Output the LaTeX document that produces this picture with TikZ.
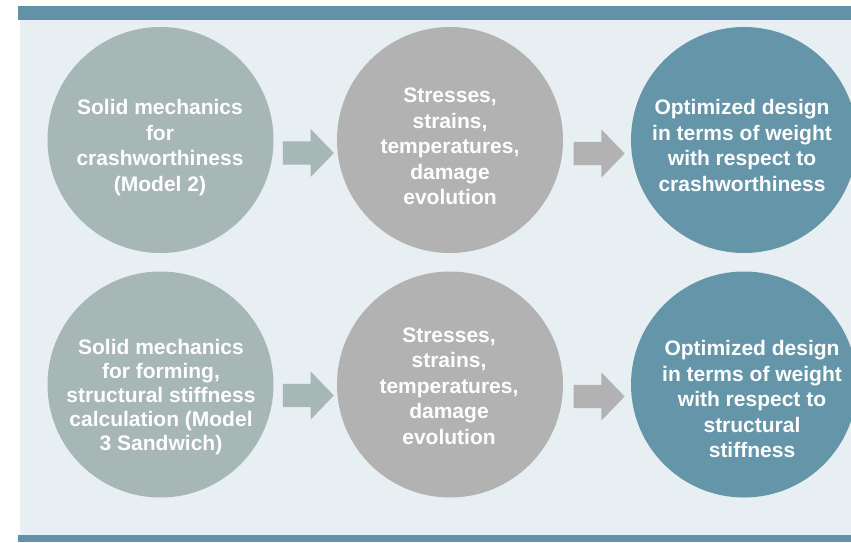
\documentclass[tikz,border=0pt]{standalone}
\usepackage{fontspec}
\setmainfont{Liberation Sans}
\usetikzlibrary{shapes.arrows,calc}
\definecolor{barblue}{HTML}{6192A7}
\definecolor{panel}{HTML}{E7EFF2}
\definecolor{sage}{HTML}{A6B7B5}
\definecolor{midgrey}{HTML}{B2B2B2}
\definecolor{teal}{HTML}{6595A9}

\begin{document}
\begin{tikzpicture}[x=1pt,y=-1pt,
  circ/.style={circle,minimum size=226pt,inner sep=0pt},
  lbl/.style={text=white,font=\bfseries\fontsize{21}{25.5}\selectfont,align=center,inner sep=0pt},
  blockarrow/.style={single arrow,minimum height=51pt,minimum width=48pt,
    single arrow head extend=12.5pt,single arrow tip angle=92,inner xsep=0pt,inner ysep=11.5pt}]
\useasboundingbox (0,0) rectangle (851,542);
\begin{scope}
\clip (0,0) rectangle (851,542);
\fill[panel] (20,20) rectangle (851,535);
\fill[barblue] (18,6) rectangle (851,20);
\fill[barblue] (18,535) rectangle (851,542);

\node[circ,fill=sage] (c11) at (160.5,140) {};
\node[circ,fill=midgrey] (c12) at (450,140) {};
\node[circ,fill=teal] (c13) at (744,140) {};
\node[circ,fill=sage] (c21) at (160.5,384.5) {};
\node[circ,fill=midgrey] (c22) at (450,384.5) {};
\node[circ,fill=teal] (c23) at (744,384.5) {};
\end{scope}

\node[lbl] (t11) at (160,147.5) {Solid mechanics\\for\\crashworthiness\\(Model 2)};
\node[lbl] (t12) at (450,146.5) {Stresses,\\strains,\\temperatures,\\damage\\evolution};
\node[lbl] (t13) at (742,145.5) {Optimized design\\in terms of weight\\with respect to\\crashworthiness};
\node[lbl,font=\bfseries\fontsize{21}{24}\selectfont] (t21) at (161,397) {Solid mechanics\\for forming,\\structural stiffness\\calculation (Model\\3 Sandwich)};
\node[lbl] (t22) at (449,386) {Stresses,\\strains,\\temperatures,\\damage\\evolution};
\node[lbl] (t23) at (752,399) {Optimized design\\in terms of weight\\with respect to\\structural\\stiffness};

\node[blockarrow,fill=sage] (a11) at ($(c11.east)!0.5!(c12.west)+(-2.5,13)$) {};
\node[blockarrow,fill=midgrey] (a12) at ($(c12.east)!0.5!(c13.west)+(-3.5,13.5)$) {};
\node[blockarrow,fill=sage] (a21) at ($(c21.east)!0.5!(c22.west)+(-2.5,11)$) {};
\node[blockarrow,fill=midgrey] (a22) at ($(c22.east)!0.5!(c23.west)+(-3.5,12)$) {};
\end{tikzpicture}
\end{document}
